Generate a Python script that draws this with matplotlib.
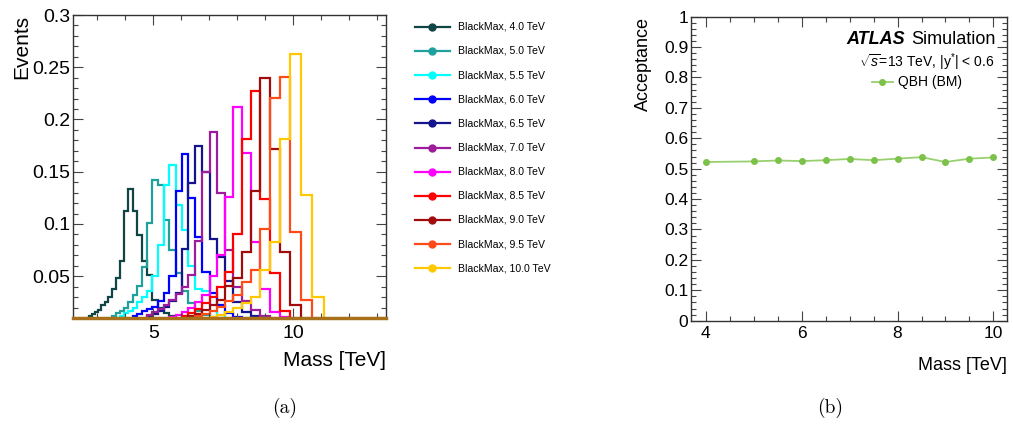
import numpy as np
import matplotlib.pyplot as plt
from matplotlib.ticker import MultipleLocator, FixedLocator, FuncFormatter

plt.rcParams['font.family'] = ['Liberation Sans', 'DejaVu Sans']
plt.rcParams['mathtext.fontset'] = 'custom'
plt.rcParams['mathtext.rm'] = 'Liberation Sans'
plt.rcParams['mathtext.it'] = 'Liberation Sans:italic'

# bin edges of the mass histograms [TeV]
edges = [2.60, 2.70, 2.80, 2.91, 3.02, 3.14, 3.26, 3.39, 3.52, 3.66, 3.80, 3.95,
         4.11, 4.27, 4.43, 4.61, 4.79, 4.97, 5.17, 5.37, 5.58, 5.80, 6.02, 6.26,
         6.50, 6.76, 7.02, 7.29, 7.58, 7.87, 8.18, 8.50, 8.83, 9.17, 9.53, 9.90,
         10.28, 10.68, 11.10, 11.53]

# normalised events per bin, one list per BlackMax mass point
bm_40 = [0, 0.012, 0.014, 0.016, 0.018, 0.022, 0.025, 0.030, 0.038, 0.048, 0.065,
         0.112, 0.133, 0.112, 0.089, 0.065, 0.051, 0.027, 0.020, 0.015, 0.012] + [0] * 18
bm_50 = [0] * 8 + [0.012, 0.015, 0.017, 0.020, 0.025, 0.032, 0.041, 0.059, 0.101,
                   0.142, 0.137, 0.104, 0.075, 0.053, 0.036, 0.024, 0.017, 0.013,
                   0.011] + [0] * 12
bm_55 = [0] * 10 + [0.012, 0.015, 0.017, 0.020, 0.025, 0.030, 0.036, 0.050, 0.080,
                    0.137, 0.156, 0.118, 0.094, 0.060, 0.038, 0.036, 0.017,
                    0.013] + [0] * 11
bm_60 = [0] * 13 + [0.012, 0.014, 0.017, 0.019, 0.021, 0.026, 0.034, 0.050, 0.132,
                    0.167, 0.125, 0.088, 0.054, 0.034, 0.022, 0.015, 0.011] + [0] * 9
bm_65 = [0] * 16 + [0.012, 0.014, 0.017, 0.021, 0.026, 0.034, 0.076, 0.139, 0.175,
                    0.150, 0.086, 0.068, 0.045, 0.025, 0.016, 0.012] + [0] * 7
bm_70 = [0] * 16 + [0.013, 0.016, 0.019, 0.022, 0.027, 0.033, 0.040, 0.051, 0.084,
                    0.150, 0.188, 0.130, 0.075, 0.040, 0.026, 0.018, 0.012] + [0] * 6
bm_80 = [0] * 20 + [0.011, 0.013, 0.016, 0.020, 0.025, 0.032, 0.050, 0.070, 0.126,
                    0.212, 0.168, 0.083, 0.038, 0.016, 0.011] + [0] * 4
bm_85 = [0] * 22 + [0.012, 0.015, 0.019, 0.024, 0.030, 0.040, 0.054, 0.090, 0.181,
                    0.227, 0.124, 0.053, 0.017] + [0] * 4
bm_90 = [0] * 23 + [0.012, 0.014, 0.018, 0.022, 0.027, 0.041, 0.048, 0.073, 0.132,
                    0.240, 0.172, 0.073, 0.022] + [0] * 3
bm_95 = [0] * 24 + [0.012, 0.014, 0.017, 0.021, 0.026, 0.032, 0.044, 0.056, 0.095,
                    0.221, 0.241, 0.092, 0.027] + [0] * 2
bm_100 = [0] * 26 + [0.011, 0.013, 0.016, 0.020, 0.024, 0.030, 0.056, 0.083, 0.181,
                     0.263, 0.128, 0.030, 0]

hists = [bm_40, bm_50, bm_55, bm_60, bm_65, bm_70, bm_80, bm_85, bm_90, bm_95, bm_100]
mass_labels = ["4.0", "5.0", "5.5", "6.0", "6.5", "7.0", "8.0", "8.5", "9.0", "9.5", "10.0"]
colors = ["#0f4645", "#1fa09c", "#00ffff", "#0000ff", "#14148c", "#9c1c9c",
          "#ff00ff", "#ff0000", "#a00c0c", "#ff4a1a", "#ffc800"]

# acceptance vs mass
acc_mass = [4, 5, 5.5, 6, 6.5, 7, 7.5, 8, 8.5, 9, 9.5, 10]
acc_vals = [0.522, 0.524, 0.527, 0.525, 0.528, 0.532, 0.528, 0.533, 0.538, 0.522, 0.533, 0.537]

W, H = 1013, 428
fig = plt.figure(figsize=(W / 100, H / 100), dpi=100)


def box(x0, y0, x1, y1):
    # pixel box (origin top left) -> figure fraction
    return [x0 / W, 1 - y1 / H, (x1 - x0) / W, (y1 - y0) / H]


def root_style(ax, size):
    for s in ax.spines.values():
        s.set_linewidth(1.0)
        s.set_color("#333333")
    ax.tick_params(which="both", direction="in", top=True, right=True,
                   labelsize=size, width=0.8, color="#444444")
    ax.tick_params(which="major", length=7.2)
    ax.tick_params(which="minor", length=3.6)
    fmt = FuncFormatter(lambda v, p: f"{v:g}")
    ax.xaxis.set_major_formatter(fmt)
    ax.yaxis.set_major_formatter(fmt)


# --- left: mass distributions ---
ax1 = fig.add_axes(box(73, 15, 386, 318))
for vals, col in zip(hists, colors):
    ax1.stairs(vals, edges, color=col, lw=1.6)
ax1.axhline(0.01, color="#a8701a", lw=2.5, clip_on=False, zorder=5)
ax1.set_xlim(2.13, 13.33)
ax1.set_ylim(0.01, 0.3)
ax1.xaxis.set_major_locator(MultipleLocator(5))
ax1.xaxis.set_minor_locator(MultipleLocator(1))
ax1.yaxis.set_major_locator(MultipleLocator(0.05))
ax1.yaxis.set_minor_locator(MultipleLocator(0.01))
root_style(ax1, 14)
ax1.tick_params(axis="x", pad=5)
ax1.tick_params(axis="y", pad=2)
ax1.set_ylabel("Events", fontsize=15, loc="top")
ax1.yaxis.set_label_coords(-0.134, 1.0)
ax1.set_xlabel("Mass [TeV]", fontsize=15, loc="right")
ax1.xaxis.set_label_coords(1.0, -0.11)

# --- right: acceptance ---
ax2 = fig.add_axes(box(691, 16.7, 1007.3, 320.7))
green = "#7cc24a"
ax2.plot(acc_mass, acc_vals, color="#98d070", lw=1.3, zorder=2)
ax2.plot(acc_mass, acc_vals, "o", color=green, ms=4, zorder=3)
ax2.set_xlim(3.69, 10.29)
ax2.set_ylim(0, 1)
ax2.xaxis.set_major_locator(FixedLocator([4, 6, 8, 10]))
ax2.xaxis.set_minor_locator(MultipleLocator(0.5))
ax2.yaxis.set_major_locator(MultipleLocator(0.1))
ax2.yaxis.set_minor_locator(MultipleLocator(0.02))
root_style(ax2, 12.5)
ax2.tick_params(axis="x", pad=4)
ax2.tick_params(axis="y", pad=2)
ax2.set_ylabel("Acceptance", fontsize=13, loc="top")
ax2.yaxis.set_label_coords(-0.123, 1.0)
ax2.set_xlabel("Mass [TeV]", fontsize=13, loc="right")
ax2.xaxis.set_label_coords(1.0, -0.118)

# overlay in pixel coordinates for legends and captions
ov = fig.add_axes([0, 0, 1, 1])
ov.set_xlim(0, W)
ov.set_ylim(H, 0)
ov.axis("off")

for i, (lab, col) in enumerate(zip(mass_labels, colors)):
    y = 26.7 + i * 24.16
    ov.plot([415, 450], [y, y], color=col, lw=1.6)
    ov.plot([432.3], [y], "o", color=col, ms=5)
    ov.text(458.3, y, f"BlackMax, {lab} TeV", fontsize=7.6, va="center")

ov.text(905, 39, "ATLAS", fontsize=13, fontweight="bold", fontstyle="italic",
        ha="right", va="center")
ov.text(995.7, 39, "Simulation", fontsize=13, ha="right", va="center")
ov.text(994, 62.7, r"$\sqrt{s}$=13 TeV, |y$^{*}$| < 0.6", fontsize=10,
        ha="right", va="center")
ov.plot([871.7, 893.3], [81.7, 81.7], color="#98d070", lw=1.3)
ov.plot([882.3], [81.7], "o", color=green, ms=4)
ov.text(897.7, 81.7, "QBH (BM)", fontsize=10, va="center")

ov.text(285, 408, "(a)", fontsize=14, family="cmr10", ha="center", va="center")
ov.text(830, 408, "(b)", fontsize=14, family="cmr10", ha="center", va="center")

fig.savefig("out.png", dpi=100)
